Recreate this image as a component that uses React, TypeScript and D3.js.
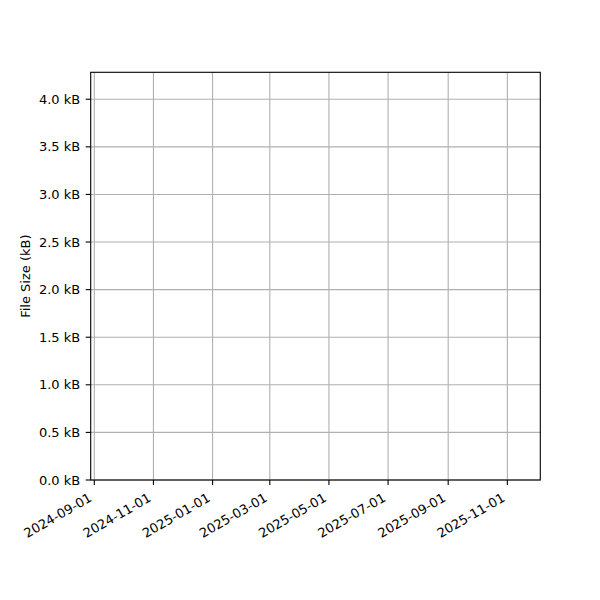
import React, { useEffect, useRef } from 'react';
import * as d3 from 'd3';

// Series: the reference plot has no recorded points, so it stays empty
const snapshotDates: string[] = [];
const fileSizes: number[] = [];

// Axis content
const dateDomain = ['2024-08-28T07:00:00', '2025-12-05T00:00:00'];
const dateTicks = [
  '2024-09-01', '2024-11-01', '2025-01-01', '2025-03-01',
  '2025-05-01', '2025-07-01', '2025-09-01', '2025-11-01',
];
const sizeDomain = [0, 4283];
const sizeTicks = [0, 500, 1000, 1500, 2000, 2500, 3000, 3500, 4000];
const yLabel = 'File Size (kB)';

const App: React.FC = () => {
  const svgRef = useRef<SVGSVGElement>(null);
  const width = 600;
  const height = 600;

  useEffect(() => {
    document.body.style.margin = '0';
    if (!svgRef.current) return;

    const svg = d3.select(svgRef.current);
    svg.selectAll('*').remove();

    const margin = { top: 72.3, right: 59.7, bottom: 120, left: 90.7 };
    const innerWidth = width - margin.left - margin.right;
    const innerHeight = height - margin.top - margin.bottom;
    const font = '"DejaVu Sans", sans-serif';

    const g = svg
      .append('g')
      .attr('transform', `translate(${margin.left},${margin.top})`);

    const parse = d3.timeParse('%Y-%m-%d');
    const xScale = d3
      .scaleTime()
      .domain(dateDomain.map(d => new Date(d)) as [Date, Date])
      .range([0, innerWidth]);

    const yScale = d3
      .scaleLinear()
      .domain(sizeDomain)
      .range([innerHeight, 0]);

    // Grid
    g.selectAll('.vgrid')
      .data(dateTicks)
      .enter()
      .append('line')
      .attr('x1', d => xScale(parse(d)!))
      .attr('x2', d => xScale(parse(d)!))
      .attr('y1', 0)
      .attr('y2', innerHeight)
      .attr('stroke', '#b0b0b0')
      .attr('stroke-width', 1.1);

    g.selectAll('.hgrid')
      .data(sizeTicks)
      .enter()
      .append('line')
      .attr('x1', 0)
      .attr('x2', innerWidth)
      .attr('y1', d => yScale(d))
      .attr('y2', d => yScale(d))
      .attr('stroke', '#b0b0b0')
      .attr('stroke-width', 1.1);

    // Data line (empty in the reference)
    const points = snapshotDates.map((d, i) => ({ date: parse(d)!, size: fileSizes[i] }));
    const line = d3
      .line<{ date: Date; size: number }>()
      .x(d => xScale(d.date))
      .y(d => yScale(d.size));
    g.append('path')
      .datum(points)
      .attr('fill', 'none')
      .attr('stroke', '#1f77b4')
      .attr('stroke-width', 2)
      .attr('d', line);

    // Frame
    g.append('rect')
      .attr('width', innerWidth)
      .attr('height', innerHeight)
      .attr('fill', 'none')
      .attr('stroke', '#000')
      .attr('stroke-width', 1.1);

    // X ticks
    const xt = g.selectAll('.xtick')
      .data(dateTicks)
      .enter()
      .append('g')
      .attr('transform', d => `translate(${xScale(parse(d)!)},${innerHeight})`);
    xt.append('line')
      .attr('y2', 5)
      .attr('stroke', '#000')
      .attr('stroke-width', 1.1);
    xt.append('text')
      .attr('transform', 'translate(-1.5,20.4) rotate(-30)')
      .attr('text-anchor', 'end')
      .style('font-family', font)
      .style('font-size', '13px')
      .attr('fill', '#000')
      .text(d => d);

    // Y ticks
    const yt = g.selectAll('.ytick')
      .data(sizeTicks)
      .enter()
      .append('g')
      .attr('transform', d => `translate(0,${yScale(d)})`);
    yt.append('line')
      .attr('x2', -5)
      .attr('stroke', '#000')
      .attr('stroke-width', 1.1);
    yt.append('text')
      .attr('x', -10.5)
      .attr('dy', '0.35em')
      .attr('text-anchor', 'end')
      .style('font-family', font)
      .style('font-size', '13px')
      .attr('fill', '#000')
      .text(d => `${(d / 1000).toFixed(1)} kB`);

    // Axis label
    svg.append('text')
      .attr('transform', `translate(30,${margin.top + innerHeight / 2}) rotate(-90)`)
      .attr('text-anchor', 'middle')
      .style('font-family', font)
      .style('font-size', '13px')
      .attr('fill', '#000')
      .text(yLabel);
  }, []);

  return <svg ref={svgRef} width={width} height={height} style={{ display: 'block', background: '#fff' }} />;
};

export default App;
